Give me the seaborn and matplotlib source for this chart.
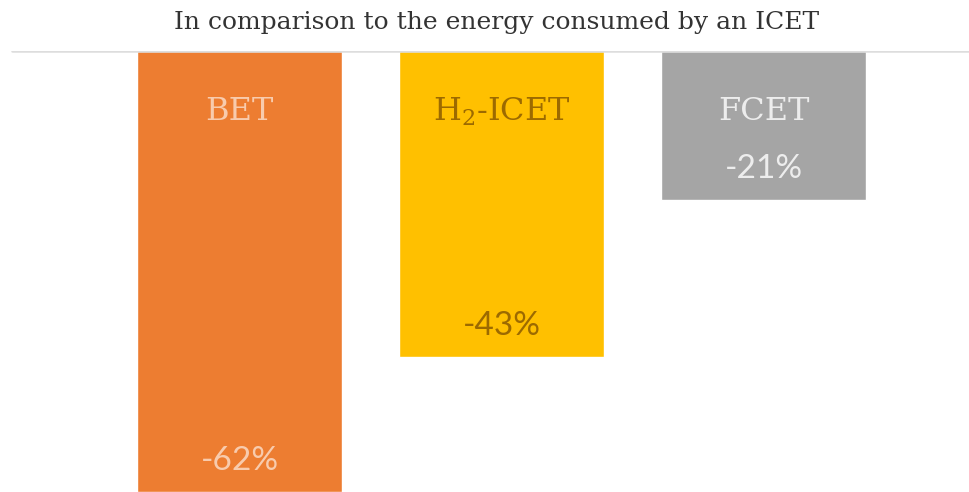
import matplotlib
matplotlib.use("Agg")
import matplotlib.pyplot as plt
import seaborn as sns
import pandas as pd

categories = ["BET", "H$_\\mathrm{2}$-ICET", "FCET"]
values = [-62, -43, -21]
value_labels = ["-62%", "-43%", "-21%"]
colors = ["#ED7D31", "#FFC000", "#A5A5A5"]
name_colors = ["#F8CBAD", "#9C6A00", "#EDEDED"]
pct_colors = ["#F8CBAD", "#9C6A00", "#EDEDED"]
title = "In comparison to the energy consumed by an ICET"

sns.set_theme(style="white")
plt.rcParams["font.family"] = ["DejaVu Serif"]
plt.rcParams["mathtext.fontset"] = "dejavuserif"

df = pd.DataFrame({"cat": categories, "val": values})

fig = plt.figure(figsize=(9.7, 4.92), dpi=100)
ax = fig.add_axes([0.0, 0.0, 1.0, (492 - 51) / 492])
sns.barplot(data=df, x="cat", y="val", hue="cat", palette=colors,
            width=0.783, legend=False, ax=ax, saturation=1)
ax.set_xlim(-239.5 / 262, (970 - 239.5) / 262)
ax.set_ylim(-62, 0)
for s in ax.spines.values():
    s.set_visible(False)
ax.set_xticks([])
ax.set_yticks([])
ax.set_xlabel("")
ax.set_ylabel("")
ax.axhline(0, xmin=12 / 970, xmax=1.0, color="#DDDDDD", lw=1.8, zorder=3)

for i, (c, v) in enumerate(zip(categories, values)):
    ax.annotate(c, xy=(i, 0), xytext=(0, -61), textcoords="offset pixels",
                ha="center", va="center", fontsize=23, color=name_colors[i])
    ax.annotate(value_labels[i], xy=(i, v), xytext=(0, 31), textcoords="offset pixels",
                ha="center", va="center", fontsize=24, color=pct_colors[i],
                family=["Lato", "DejaVu Sans"])

fig.text(497 / 970, 1 - 23 / 492, title, ha="center", va="center", fontsize=18, color="#333333")

fig.savefig("out.png", dpi=100)
